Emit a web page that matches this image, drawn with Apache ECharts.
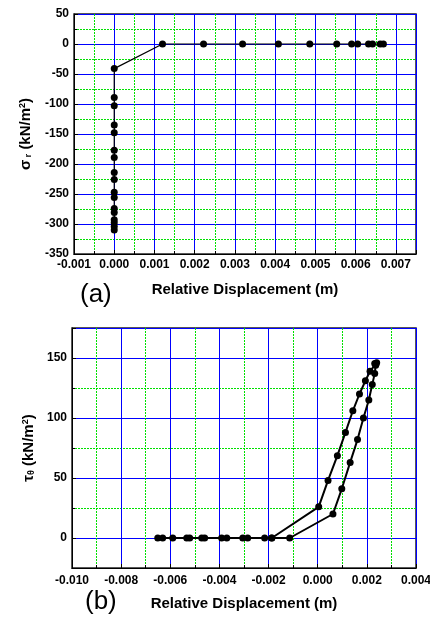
<!DOCTYPE html>
<html>
<head>
<meta charset="utf-8">
<script src="https://cdn.jsdelivr.net/npm/echarts@6/dist/echarts.min.js"></script>
<style>
  html, body { margin: 0; padding: 0; background: #fff; }
  #chart { width: 430px; height: 617px; }
</style>
</head>
<body>
<div id="chart"></div>
<script>
// (a) radial stress vs relative displacement
const dispA = [0, 0, 0, 0, 0, 0, 0, 0, 0, 0, 0, 0, 0, 0, 0, 0, 0,
  0.0012, 0.00222, 0.00319, 0.00408, 0.00486, 0.00553, 0.0059, 0.00605, 0.00632, 0.00642, 0.00661, 0.00669]
const stressA = [-310, -304, -298, -293, -281, -274, -256, -247, -226, -214, -189, -177, -148, -135, -103, -89, -41,
  0, 0, 0, 0, 0, 0, 0, 0, 0, 0, 0, 0]

// (b) shear stress vs relative displacement
const dispB = [-0.00651, -0.00631, -0.0059, -0.00533, -0.00521, -0.00472, -0.0046, -0.00391, -0.0037,
  -0.00305, -0.00285, -0.00216, -0.00187, -0.00114,
  0.00062, 0.00098, 0.00132, 0.00162, 0.00186, 0.00208, 0.00222, 0.00232, 0.00236, 0.0024,
  0.00232, 0.00213, 0.00194, 0.0017, 0.00143, 0.00113, 0.0008, 0.00042, 0.00004, -0.00187]
const shearB = [0, 0, 0, 0, 0, 0, 0, 0, 0, 0, 0, 0, 0, 0,
  20, 41, 63, 82, 100, 115, 128, 137, 144, 146,
  145.5, 139, 131, 120, 106, 88, 68.6, 48, 26, 0]

const FONT = 'Liberation Sans, Arial, sans-serif'

function zip(xs, ys) {
  return xs.map((x, i) => [x, ys[i]])
}

function valueAxis(gridIndex, extra) {
  return Object.assign({
    type: 'value',
    gridIndex: gridIndex,
    axisLine: { show: true, onZero: false, lineStyle: { color: '#000', width: 1 } },
    axisTick: { show: true, inside: true, length: 4, lineStyle: { color: '#000' } },
    minorTick: { show: true, splitNumber: 2, length: 3, lineStyle: { color: '#000' } },
    axisLabel: { color: '#000', fontFamily: FONT, fontWeight: 'bold', fontSize: 12, margin: 5 },
    splitLine: { show: true, lineStyle: { color: '#0000ff', width: 1 } },
    minorSplitLine: { show: true, lineStyle: { color: '#00e000', width: 1, type: [2, 1] } },
    nameTextStyle: { color: '#000', fontFamily: FONT, fontWeight: 'bold', fontSize: 15 }
  }, extra)
}

const yNameRich = {
  a: { fontFamily: FONT, fontWeight: 'bold', fontSize: 15, color: '#000' },
  sub: { fontFamily: FONT, fontWeight: 'bold', fontSize: 9, color: '#000', verticalAlign: 'bottom', padding: [6, 0, 0, 0] },
  sup: { fontFamily: FONT, fontWeight: 'bold', fontSize: 9, color: '#000', verticalAlign: 'top', padding: [0, 0, 6, 0] }
}

const chart = echarts.init(document.getElementById('chart'))

const option = {
  animation: false,
  backgroundColor: '#fff',
  title: [
    { text: '(a)', left: 75, top: 277, textStyle: { fontFamily: FONT, fontSize: 26, fontWeight: 'normal', color: '#000' } },
    { text: '(b)', left: 80, top: 584, textStyle: { fontFamily: FONT, fontSize: 26, fontWeight: 'normal', color: '#000' } }
  ],
  grid: [
    { left: 74, top: 14, width: 342, height: 240, outerBoundsMode: 'none',
      show: true, borderColor: '#222', borderWidth: 1.5, backgroundColor: 'transparent' },
    { left: 72, top: 328, width: 344, height: 240, outerBoundsMode: 'none',
      show: true, borderColor: '#222', borderWidth: 1.5, backgroundColor: 'transparent' }
  ],
  xAxis: [
    valueAxis(0, {
      min: -0.001, max: 0.0075, interval: 0.001,
      name: 'Relative Displacement (m)', nameLocation: 'middle', nameGap: 28,
      axisLabel: { color: '#000', fontFamily: FONT, fontWeight: 'bold', fontSize: 12, margin: 5, showMaxLabel: false,
        formatter: v => v.toFixed(3) }
    }),
    valueAxis(1, {
      min: -0.010, max: 0.004, interval: 0.002,
      name: 'Relative Displacement (m)', nameLocation: 'middle', nameGap: 28,
      axisLabel: { color: '#000', fontFamily: FONT, fontWeight: 'bold', fontSize: 12, margin: 7,
        formatter: v => v.toFixed(3) }
    })
  ],
  yAxis: [
    valueAxis(0, {
      min: -350, max: 50, interval: 50,
      name: '{a|σ}{sub| r}{a| (kN/m}{sup|2}{a|)}', nameLocation: 'middle', nameGap: 41,
      nameTextStyle: { rich: yNameRich }
    }),
    valueAxis(1, {
      min: -25, max: 175, splitNumber: 4,
      name: '{a|τ}{sub|θ}{a| (kN/m}{sup|2}{a|)}', nameLocation: 'middle', nameGap: 35,
      nameTextStyle: { rich: yNameRich },
      axisLabel: { color: '#000', fontFamily: FONT, fontWeight: 'bold', fontSize: 12, margin: 5,
        showMinLabel: false, showMaxLabel: false }
    })
  ],
  series: [
    {
      type: 'line',
      xAxisIndex: 0, yAxisIndex: 0,
      data: zip(dispA, stressA),
      symbol: 'circle', symbolSize: 7,
      itemStyle: { color: '#000' },
      lineStyle: { color: '#000', width: 1.2 }
    },
    {
      type: 'line',
      xAxisIndex: 1, yAxisIndex: 1,
      data: zip(dispB, shearB),
      symbol: 'circle', symbolSize: 7,
      itemStyle: { color: '#000' },
      lineStyle: { color: '#000', width: 2 }
    }
  ]
}

chart.setOption(option)
</script>
</body>
</html>
